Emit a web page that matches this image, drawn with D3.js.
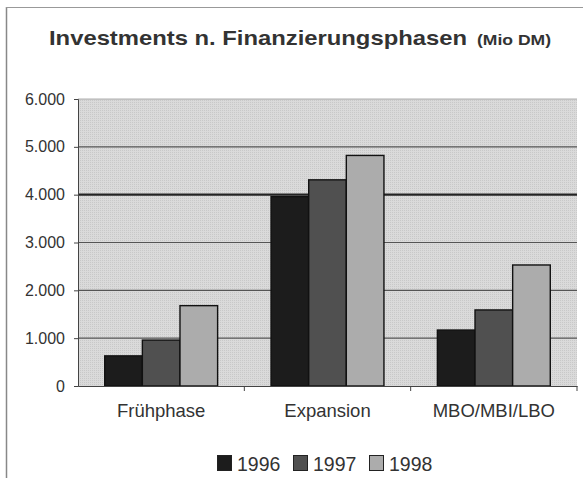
<!DOCTYPE html>
<html>
<head>
<meta charset="utf-8">
<script src="https://cdn.jsdelivr.net/npm/d3@7/dist/d3.min.js"></script>
<style>
  html, body { margin: 0; padding: 0; background: #fff; }
  svg { display: block; font-family: "Liberation Sans", Arial, sans-serif; }
</style>
</head>
<body>
<svg id="chart" width="583" height="478"></svg>
<script>
// Investments by financing phase, in Mio DM
const categories = ["Frühphase", "Expansion", "MBO/MBI/LBO"];
const years = ["1996", "1997", "1998"];
const values1996 = [630, 3960, 1170];
const values1997 = [960, 4310, 1590];
const values1998 = [1680, 4820, 2530];
const yTicks = [0, 1000, 2000, 3000, 4000, 5000, 6000];
const yTickLabels = ["0", "1.000", "2.000", "3.000", "4.000", "5.000", "6.000"];

const seriesValues = [values1996, values1997, values1998];
const fills = ["#1c1c1c", "#505050", "#acacac"];

const svg = d3.select("#chart");

// Frame lines (left and top)
svg.append("line").attr("x1", 6.5).attr("x2", 6.5).attr("y1", 7).attr("y2", 478)
  .attr("stroke", "#888").attr("stroke-width", 1.5);
svg.append("line").attr("x1", 6).attr("x2", 583).attr("y1", 7.5).attr("y2", 7.5)
  .attr("stroke", "#999").attr("stroke-width", 1.2);

// Title
const title = svg.append("text").attr("y", 45)
  .attr("fill", "#333").attr("font-weight", "bold");
title.append("tspan").attr("x", 49).attr("font-size", 21)
  .attr("textLength", 418).attr("lengthAdjust", "spacingAndGlyphs")
  .text("Investments n. Finanzierungsphasen");
title.append("tspan").attr("x", 477).attr("font-size", 14)
  .attr("textLength", 74).attr("lengthAdjust", "spacingAndGlyphs")
  .text("(Mio DM)");

const plot = { left: 78, right: 577, top: 99, bottom: 386 };

const x = d3.scaleBand().domain(categories).range([plot.left, plot.right]).paddingInner(0).paddingOuter(0);
const xInner = d3.scaleBand().domain(years).range([0, x.bandwidth()]).paddingOuter(0.71).paddingInner(0);
const y = d3.scaleLinear().domain([0, 6000]).range([plot.bottom, plot.top]);

// Stipple pattern for the plot background
const defs = svg.append("defs");
const pat = defs.append("pattern").attr("id", "stip").attr("width", 2).attr("height", 2)
  .attr("patternUnits", "userSpaceOnUse");
pat.append("rect").attr("width", 2).attr("height", 2).attr("fill", "#dadada");
pat.append("rect").attr("width", 1).attr("height", 1).attr("fill", "#c8c8c8");

svg.append("rect").attr("x", plot.left).attr("y", plot.top)
  .attr("width", plot.right - plot.left).attr("height", plot.bottom - plot.top)
  .attr("fill", "url(#stip)");

// Gridlines
svg.append("g").selectAll("line").data(yTicks.filter(d => d > 0)).join("line")
  .attr("x1", plot.left).attr("x2", plot.right)
  .attr("y1", d => y(d)).attr("y2", d => y(d))
  .attr("stroke", d => d === 4000 ? "#222" : d === 6000 ? "#999" : "#555")
  .attr("stroke-width", d => d === 4000 ? 2.2 : d === 6000 ? 0.8 : 1.1);

// Bars
const groups = svg.append("g").selectAll("g").data(categories).join("g")
  .attr("transform", d => `translate(${x(d)},0)`);
groups.selectAll("rect").data((c, ci) => years.map((yr, si) => ({ yr, si, v: seriesValues[si][ci] })))
  .join("rect")
  .attr("x", d => xInner(d.yr))
  .attr("width", xInner.bandwidth())
  .attr("y", d => y(d.v))
  .attr("height", d => y(0) - y(d.v))
  .attr("fill", d => fills[d.si])
  .attr("stroke", "#111").attr("stroke-width", 1.4);

// Y axis
const yAxis = d3.axisLeft(y).tickValues(yTicks).tickFormat((d, i) => yTickLabels[i]).tickSize(4).tickPadding(9);
const yg = svg.append("g").attr("transform", `translate(${plot.left},0)`).call(yAxis);
yg.select(".domain").attr("stroke", "#444").attr("stroke-width", 1);
yg.selectAll(".tick line").attr("stroke", "#444");
yg.selectAll("text").attr("font-size", 16).attr("fill", "#333");

// X axis
const xAxis = d3.axisBottom(x).tickSize(0).tickPadding(18);
const xg = svg.append("g").attr("transform", `translate(0,${plot.bottom})`).call(xAxis);
xg.select(".domain").attr("stroke", "#444").attr("stroke-width", 1.2);
xg.selectAll("text").attr("font-size", 18.5).attr("fill", "#333");
// Category boundary ticks
xg.append("g").selectAll("line").data(categories.slice(1).map(c => x(c)).concat([plot.right]))
  .join("line").attr("x1", d => d).attr("x2", d => d).attr("y1", 0).attr("y2", 5)
  .attr("stroke", "#444");

// Legend
const legend = svg.append("g").attr("transform", "translate(217,455)");
years.forEach((yr, i) => {
  const g = legend.append("g").attr("transform", `translate(${i * 76},0)`);
  g.append("rect").attr("x", 0.5).attr("y", 0.5).attr("width", 14).attr("height", 15)
    .attr("fill", fills[i]).attr("stroke", "#222").attr("stroke-width", 1);
  g.append("text").attr("x", 20).attr("y", 16).attr("font-size", 19.5).attr("fill", "#333").text(yr);
});
</script>
</body>
</html>
